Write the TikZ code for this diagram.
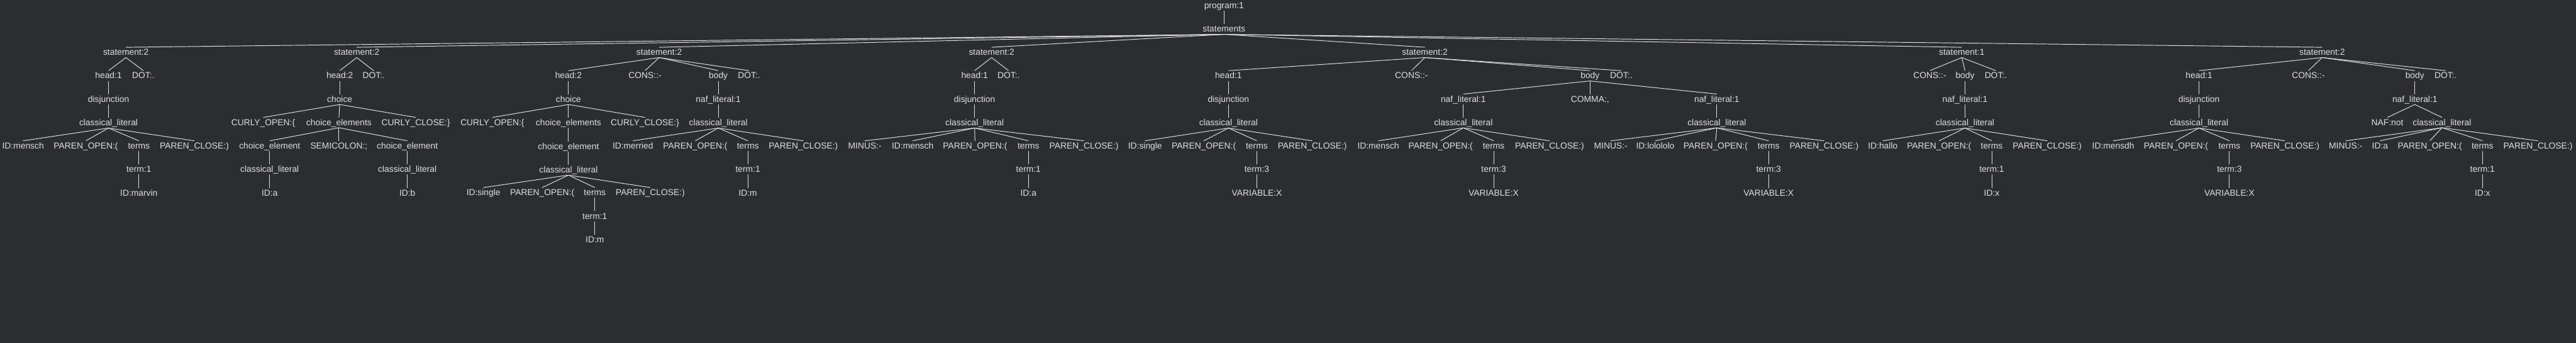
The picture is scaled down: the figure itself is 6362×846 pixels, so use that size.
\documentclass[tikz,border=0pt]{standalone}
\usepackage{fontspec}
\setmainfont{Liberation Sans}
\usetikzlibrary{positioning}
\definecolor{slate}{RGB}{43,45,49}
\definecolor{chalk}{RGB}{224,224,226}
\def\BackColor{slate}
\def\InkColor{chalk}

\begin{document}
\begin{tikzpicture} [x=1pt, y=-1pt,
     L/.style = {text=\InkColor, inner xsep=0pt, inner ysep=2.5pt, text height=17pt, text depth=3pt,
                 font=\fontsize{21.5}{26}\selectfont},
   node distance=32.7pt,
   every edge/.style={draw=\InkColor, line width=1.5pt}
]
  \fill[\BackColor] (0,0) rectangle (6362,846);
  \useasboundingbox (0,0) rectangle (6362,846);

  % ROOT
  \node[L] (program) at (3023,14) {program:1};
  \node[L] (statements) [below=of program] {statements};

  % STATEMENT 1
  \node[L] (stmta) at (311,129.4) {statement:2};
  \node[L] (heada) at (268,187.1) {head:1};
  \node[L] (dota)  at (354,187.1) {DOT:.};
  \node[L] (disja) [below=of heada] {disjunction};
  \node[L] (cla)   [below=of disja] {classical\_literal};
  \node[L] (ida)    at (57,360.2)  {ID:mensch};
  \node[L] (poa)    at (212,360.2) {PAREN\_OPEN:(};
  \node[L] (termsa) at (343,360.2) {terms};
  \node[L] (pca)    at (480,360.2) {PAREN\_CLOSE:)};
  \node[L] (terma) [below=of termsa] {term:1};
  \node[L] (vala)  [below=of terma] {ID:marvin};

  % STATEMENT 2
  \node[L] (stmtb) at (881,129.4) {statement:2};
  \node[L] (headb) at (839,187.1) {head:2};
  \node[L] (dotb)  at (923,187.1) {DOT:.};
  \node[L] (choiceb) [below=of headb] {choice};
  \node[L] (cob)  at (650,302.5)  {CURLY\_OPEN:\{};
  \node[L] (cesb) at (837,302.5)  {choice\_elements};
  \node[L] (ccb)  at (1027,302.5) {CURLY\_CLOSE:\}};
  \node[L] (ceb)  at (666,360.2)  {choice\_element};
  \node[L] (semib) [below=of cesb] {SEMICOLON:;};
  \node[L] (cebb) at (1006,360.2) {choice\_element};
  \node[L] (clb)  [below=of ceb]  {classical\_literal};
  \node[L] (idb)  [below=of clb]  {ID:a};
  \node[L] (clbb) [below=of cebb] {classical\_literal};
  \node[L] (idbb) [below=of clbb] {ID:b};

  % STATEMENT 3
  \node[L] (stmtc) at (1628,129.4) {statement:2};
  \node[L] (headc) at (1404,187.1) {head:2};
  \node[L] (consc) at (1593,187.1) {CONS::-};
  \node[L] (bodyc) at (1774,187.1) {body};
  \node[L] (dotc)  at (1850,187.1) {DOT:.};
  \node[L] (choicec) [below=of headc] {choice};
  \node[L] (coc)  at (1216,302.5) {CURLY\_OPEN:\{};
  \node[L] (cesc) [below=of choicec] {choice\_elements};
  \node[L] (ccc)  at (1593,302.5) {CURLY\_CLOSE:\}};
  \node[L] (cec)  [below=of cesc] {choice\_element};
  \node[L] (clc)  [below=of cec]  {classical\_literal};
  \node[L] (idc)    at (1194,475.6) {ID:single};
  \node[L] (poc)    at (1339,475.6) {PAREN\_OPEN:(};
  \node[L] (termsc) at (1469,475.6) {terms};
  \node[L] (pcc)    at (1606,475.6) {PAREN\_CLOSE:)};
  \node[L] (termc) [below=of termsc] {term:1};
  \node[L] (valc)  [below=of termc] {ID:m};
  \node[L] (nafc)  [below=of bodyc] {naf\_literal:1};
  \node[L] (nclc)  [below=of nafc]  {classical\_literal};
  \node[L] (nidc)    at (1563,360.2) {ID:merried};
  \node[L] (npoc)    at (1717,360.2) {PAREN\_OPEN:(};
  \node[L] (ntermsc) at (1847,360.2) {terms};
  \node[L] (npcc)    at (1984,360.2) {PAREN\_CLOSE:)};
  \node[L] (ntermc) [below=of ntermsc] {term:1};
  \node[L] (nvalc)  [below=of ntermc] {ID:m};

  % STATEMENT 4
  \node[L] (stmtd) at (2449,129.4) {statement:2};
  \node[L] (headd) at (2407,187.1) {head:1};
  \node[L] (dotd)  at (2491,187.1) {DOT:.};
  \node[L] (disjd) [below=of headd] {disjunction};
  \node[L] (cld)   [below=of disjd] {classical\_literal};
  \node[L] (minusd) at (2136,360.2) {MINUS:-};
  \node[L] (idd)    at (2254,360.2) {ID:mensch};
  \node[L] (pod)    at (2408,360.2) {PAREN\_OPEN:(};
  \node[L] (termsd) at (2540,360.2) {terms};
  \node[L] (pcd)    at (2677,360.2) {PAREN\_CLOSE:)};
  \node[L] (termd) [below=of termsd] {term:1};
  \node[L] (vald)  [below=of termd] {ID:a};

  % STATEMENT 5
  \node[L] (stmte) at (3519,129.4) {statement:2};
  \node[L] (heade) at (3034,187.1) {head:1};
  \node[L] (conse) at (3486,187.1) {CONS::-};
  \node[L] (bodye) at (3927,187.1) {body};
  \node[L] (dote)  at (4004,187.1) {DOT:.};
  \node[L] (disje) [below=of heade] {disjunction};
  \node[L] (cle)   [below=of disje] {classical\_literal};
  \node[L] (ide)    at (2828,360.2) {ID:single};
  \node[L] (poe)    at (2973,360.2) {PAREN\_OPEN:(};
  \node[L] (termse) at (3104,360.2) {terms};
  \node[L] (pce)    at (3241,360.2) {PAREN\_CLOSE:)};
  \node[L] (terme) [below=of termse] {term:3};
  \node[L] (vale)  [below=of terme] {VARIABLE:X};
  \node[L] (nafeA)  at (3614,244.8) {naf\_literal:1};
  \node[L] (commae) [below=of bodye] {COMMA:,};
  \node[L] (nafeB)  at (4240,244.8) {naf\_literal:1};
  % left naf
  \node[L] (ncleA) [below=of nafeA] {classical\_literal};
  \node[L] (nideA)    at (3404,360.2) {ID:mensch};
  \node[L] (npoeA)    at (3558,360.2) {PAREN\_OPEN:(};
  \node[L] (ntermseA) at (3689,360.2) {terms};
  \node[L] (npceA)    at (3827,360.2) {PAREN\_CLOSE:)};
  \node[L] (ntermeA) [below=of ntermseA] {term:3};
  \node[L] (nvaleA)  [below=of ntermeA] {VARIABLE:X};
  % right naf
  \node[L] (ncleB) [below=of nafeB] {classical\_literal};
  \node[L] (minuseB)  at (3978,360.2) {MINUS:-};
  \node[L] (nideB)    at (4088,360.2) {ID:lolololo};
  \node[L] (npoeB)    at (4237,360.2) {PAREN\_OPEN:(};
  \node[L] (ntermseB) at (4368,360.2) {terms};
  \node[L] (npceB)    at (4505,360.2) {PAREN\_CLOSE:)};
  \node[L] (ntermeB) [below=of ntermseB] {term:3};
  \node[L] (nvaleB)  [below=of ntermeB] {VARIABLE:X};

  % STATEMENT 6
  \node[L] (stmtf) at (4845,129.4) {statement:1};
  \node[L] (consf) at (4766,187.1) {CONS::-};
  \node[L] (bodyf) at (4853,187.1) {body};
  \node[L] (dotf)  at (4929,187.1) {DOT:.};
  \node[L] (naff)  [below=of bodyf] {naf\_literal:1};
  \node[L] (clf)   [below=of naff]  {classical\_literal};
  \node[L] (idf)    at (4650,360.2) {ID:hallo};
  \node[L] (pof)    at (4789,360.2) {PAREN\_OPEN:(};
  \node[L] (termsf) at (4919,360.2) {terms};
  \node[L] (pcf)    at (5056,360.2) {PAREN\_CLOSE:)};
  \node[L] (termf) [below=of termsf] {term:1};
  \node[L] (valf)  [below=of termf] {ID:x};

  % STATEMENT 7
  \node[L] (stmtg) at (5735,129.4) {statement:2};
  \node[L] (headg) at (5431,187.1) {head:1};
  \node[L] (consg) at (5701,187.1) {CONS::-};
  \node[L] (bodyg) at (5964,187.1) {body};
  \node[L] (dotg)  at (6040,187.1) {DOT:.};
  \node[L] (disjg) [below=of headg] {disjunction};
  \node[L] (clg)   [below=of disjg] {classical\_literal};
  \node[L] (idg)    at (5219,360.2) {ID:mensdh};
  \node[L] (pog)    at (5374,360.2) {PAREN\_OPEN:(};
  \node[L] (termsg) at (5506,360.2) {terms};
  \node[L] (pcg)    at (5643,360.2) {PAREN\_CLOSE:)};
  \node[L] (termg) [below=of termsg] {term:3};
  \node[L] (valg)  [below=of termg] {VARIABLE:X};
  \node[L] (nafg)  [below=of bodyg] {naf\_literal:1};
  \node[L] (notg)  at (5896,302.5) {NAF:not};
  \node[L] (nclg)  at (6031,302.5) {classical\_literal};
  \node[L] (minusg)  at (5793,360.2) {MINUS:-};
  \node[L] (nidg)    at (5878,360.2) {ID:a};
  \node[L] (npog)    at (6001,360.2) {PAREN\_OPEN:(};
  \node[L] (ntermsg) at (6131,360.2) {terms};
  \node[L] (npcg)    at (6268,360.2) {PAREN\_CLOSE:)};
  \node[L] (ntermg) [below=of ntermsg] {term:1};
  \node[L] (nvalg)  [below=of ntermg] {ID:x};

  % Edges
  \path (program.south) edge (statements.north);
  \path (statements.south) edge (stmta.north) edge (stmtb.north) edge (stmtc.north)
        edge (stmtd.north) edge (stmte.north) edge (stmtf.north) edge (stmtg.north);

  % statement 1
  \path (stmta.south) edge (heada.north) edge (dota.north);
  \path (heada.south) edge (disja.north);
  \path (disja.south) edge (cla.north);
  \path (cla.south) edge (ida.north) edge (poa.north) edge (termsa.north) edge (pca.north);
  \path (termsa.south) edge (terma.north);
  \path (terma.south) edge (vala.north);

  % statement 2
  \path (stmtb.south) edge (headb.north) edge (dotb.north);
  \path (headb.south) edge (choiceb.north);
  \path (choiceb.south) edge (cob.north) edge (cesb.north) edge (ccb.north);
  \path (cesb.south) edge (ceb.north) edge (semib.north) edge (cebb.north);
  \path (ceb.south) edge (clb.north);
  \path (clb.south) edge (idb.north);
  \path (cebb.south) edge (clbb.north);
  \path (clbb.south) edge (idbb.north);

  % statement 3
  \path (stmtc.south) edge (headc.north) edge (consc.north) edge (bodyc.north) edge (dotc.north);
  \path (headc.south) edge (choicec.north);
  \path (choicec.south) edge (coc.north) edge (cesc.north) edge (ccc.north);
  \path (cesc.south) edge (cec.north);
  \path (cec.south) edge (clc.north);
  \path (clc.south) edge (idc.north) edge (poc.north) edge (termsc.north) edge (pcc.north);
  \path (termsc.south) edge (termc.north);
  \path (termc.south) edge (valc.north);
  \path (bodyc.south) edge (nafc.north);
  \path (nafc.south) edge (nclc.north);
  \path (nclc.south) edge (nidc.north) edge (npoc.north) edge (ntermsc.north) edge (npcc.north);
  \path (ntermsc.south) edge (ntermc.north);
  \path (ntermc.south) edge (nvalc.north);

  % statement 4
  \path (stmtd.south) edge (headd.north) edge (dotd.north);
  \path (headd.south) edge (disjd.north);
  \path (disjd.south) edge (cld.north);
  \path (cld.south) edge (minusd.north) edge (idd.north) edge (pod.north) edge (termsd.north) edge (pcd.north);
  \path (termsd.south) edge (termd.north);
  \path (termd.south) edge (vald.north);

  % statement 5
  \path (stmte.south) edge (heade.north) edge (conse.north) edge (bodye.north) edge (dote.north);
  \path (heade.south) edge (disje.north);
  \path (disje.south) edge (cle.north);
  \path (cle.south) edge (ide.north) edge (poe.north) edge (termse.north) edge (pce.north);
  \path (termse.south) edge (terme.north);
  \path (terme.south) edge (vale.north);
  \path (bodye.south) edge (nafeA.north) edge (commae.north) edge (nafeB.north);
  \path (nafeA.south) edge (ncleA.north);
  \path (ncleA.south) edge (nideA.north) edge (npoeA.north) edge (ntermseA.north) edge (npceA.north);
  \path (ntermseA.south) edge (ntermeA.north);
  \path (ntermeA.south) edge (nvaleA.north);
  \path (nafeB.south) edge (ncleB.north);
  \path (ncleB.south) edge (minuseB.north) edge (nideB.north) edge (npoeB.north) edge (ntermseB.north) edge (npceB.north);
  \path (ntermseB.south) edge (ntermeB.north);
  \path (ntermeB.south) edge (nvaleB.north);

  % statement 6
  \path (stmtf.south) edge (consf.north) edge (bodyf.north) edge (dotf.north);
  \path (bodyf.south) edge (naff.north);
  \path (naff.south) edge (clf.north);
  \path (clf.south) edge (idf.north) edge (pof.north) edge (termsf.north) edge (pcf.north);
  \path (termsf.south) edge (termf.north);
  \path (termf.south) edge (valf.north);

  % statement 7
  \path (stmtg.south) edge (headg.north) edge (consg.north) edge (bodyg.north) edge (dotg.north);
  \path (headg.south) edge (disjg.north);
  \path (disjg.south) edge (clg.north);
  \path (clg.south) edge (idg.north) edge (pog.north) edge (termsg.north) edge (pcg.north);
  \path (termsg.south) edge (termg.north);
  \path (termg.south) edge (valg.north);
  \path (bodyg.south) edge (nafg.north);
  \path (nafg.south) edge (notg.north) edge (nclg.north);
  \path (nclg.south) edge (minusg.north) edge (nidg.north) edge (npog.north) edge (ntermsg.north) edge (npcg.north);
  \path (ntermsg.south) edge (ntermg.north);
  \path (ntermg.south) edge (nvalg.north);

\end{tikzpicture}
\end{document}
